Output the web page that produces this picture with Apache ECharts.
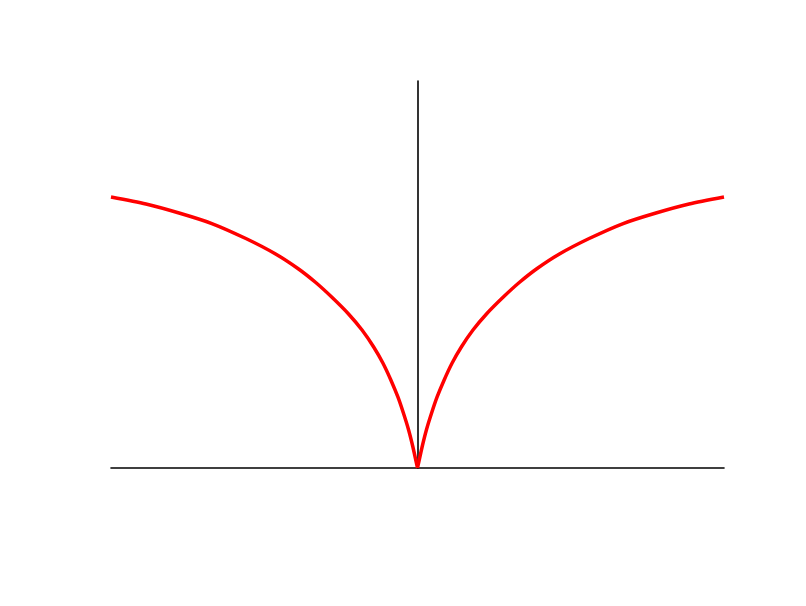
<!DOCTYPE html>
<html>
<head>
<meta charset="utf-8">
<script src="https://cdn.jsdelivr.net/npm/echarts@6/dist/echarts.min.js"></script>
<style>
html,body{margin:0;padding:0;background:#fff;}
#chart{width:806px;height:606px;}
</style>
</head>
<body>
<div id="chart"></div>
<script>
// Right branch (x >= 0)
const rightX = [0, 0.15, 0.29, 0.46, 0.64, 0.87, 1.13, 1.43, 1.81, 2.25, 2.80, 3.32, 3.88, 4.63, 5.60, 6.71, 7.78, 8.86, 10];
const rightY = [0, 0.217, 0.393, 0.568, 0.734, 0.910, 1.085, 1.251, 1.426, 1.592, 1.767, 1.917, 2.057, 2.212, 2.372, 2.527, 2.636, 2.729, 2.801];
// Left branch (x <= 0) (mirror image of the right one)
const leftX = [-10, -8.86, -7.78, -6.71, -5.60, -4.63, -3.88, -3.32, -2.80, -2.25, -1.81, -1.43, -1.13, -0.87, -0.64, -0.46, -0.29, -0.15, 0];
const leftY = [2.801, 2.729, 2.636, 2.527, 2.372, 2.212, 2.057, 1.917, 1.767, 1.592, 1.426, 1.251, 1.085, 0.910, 0.734, 0.568, 0.393, 0.217, 0];

const leftData = leftX.map((x, i) => [x, leftY[i]]);
const rightData = rightX.map((x, i) => [x, rightY[i]]);

const chart = echarts.init(document.getElementById('chart'), null, {renderer: 'canvas'});
const lineStyle = {color: '#ff0000', width: 3.5};
chart.setOption({
  backgroundColor: '#ffffff',
  animation: false,
  grid: {left: 111, right: 82, top: 81, bottom: 138},
  xAxis: {
    type: 'value', min: -10, max: 10,
    axisLine: {show: true, onZero: true, lineStyle: {color: '#000', width: 1.6}},
    axisTick: {show: false}, axisLabel: {show: false}, splitLine: {show: false}
  },
  yAxis: {
    type: 'value', min: 0, max: 4,
    axisLine: {show: true, onZero: true, lineStyle: {color: '#000', width: 1.6}},
    axisTick: {show: false}, axisLabel: {show: false}, splitLine: {show: false}
  },
  series: [
    {type: 'line', data: leftData, smooth: 0.25, showSymbol: false, lineStyle: lineStyle, z: 3},
    {type: 'line', data: rightData, smooth: 0.25, showSymbol: false, lineStyle: lineStyle, z: 3}
  ]
});
</script>
</body>
</html>
